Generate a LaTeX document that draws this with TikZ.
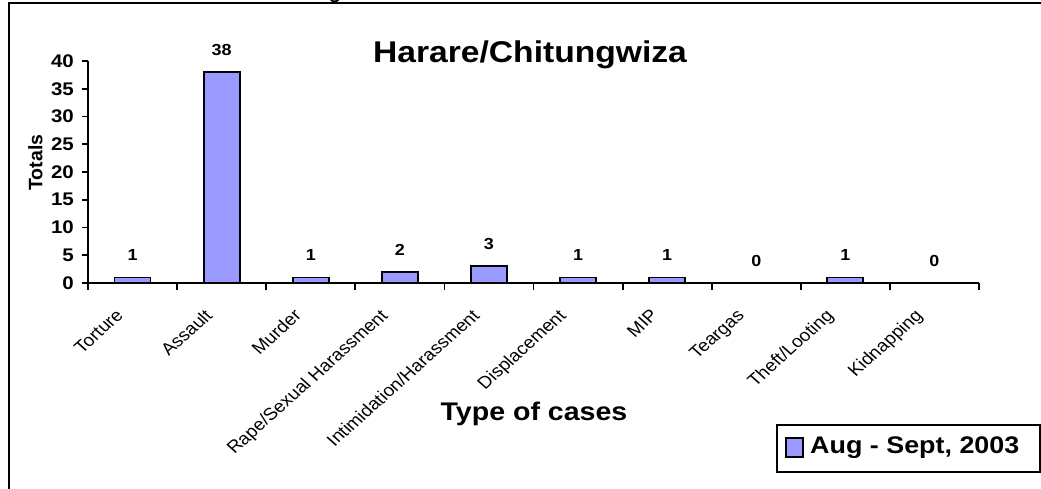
\documentclass[tikz,border=0pt]{standalone}
\usepackage{graphicx}
\usepackage{fontspec}
\setmainfont{Liberation Sans}
\newfontfamily\wide[FakeStretch=1.12]{Liberation Sans}
\definecolor{barfill}{HTML}{9999FF}
\newcommand{\catbox}[1]{\scalebox{1.12}[1]{\rotatebox{45}{#1}}}
\begin{document}
\begin{tikzpicture}[x=1pt,y=-1pt,
  frameline/.style={line width=2.4pt},
  axisline/.style={line width=1.8pt},
  barbox/.style={draw=black, line width=1.8pt, fill=barfill},
  ticklab/.style={font=\wide\bfseries\fontsize{18.3}{20}\selectfont, anchor=east, inner sep=0pt},
  vallab/.style={font=\wide\bfseries\fontsize{16}{18}\selectfont, inner sep=0pt},
  catlab/.style={font=\fontsize{17.1}{19}\selectfont, anchor=north east, inner sep=0pt},
  titlelab/.style={font=\wide\bfseries\fontsize{30}{34}\selectfont, inner sep=0pt},
  axtitle/.style={font=\wide\bfseries\fontsize{25.5}{28}\selectfont, inner sep=0pt, anchor=base},
  legbox/.style={draw=black, line width=2pt, fill=white}]
\useasboundingbox (0,0) rectangle (1041,489);
% outer frame (partly outside the page)
\draw[frameline] (8.7,489) -- (8.7,3.2) -- (1041,3.2);
% clipped fragment of text above
\node[font=\bfseries\fontsize{20}{22}\selectfont, anchor=base, inner sep=0pt] (frag) at (335,-1.5) {g};
% axes
\coordinate (O) at (88,283);
\coordinate (Ytop) at (88,61);
\coordinate (Xend) at (979,283);
\draw[axisline] (Ytop) -- (O) -- (Xend);
\foreach \t in {0,5,...,40}{
  \draw[axisline] (82,283-5.55*\t) -- (88,283-5.55*\t);
  \node[ticklab] (yt\t) at (74,283-5.55*\t) {\t};
}
\foreach \k in {0,...,10}{
  \draw[axisline] (88+89.1*\k,283) -- (88+89.1*\k,290);
}
% bars and value labels
\foreach \v [count=\k from 0] in {1,38,1,2,3,1,1,0,1,0}{
  \pgfmathsetmacro\cx{88+89.1*(\k+0.5)}
  \pgfmathsetmacro\ty{283-5.55*\v}
  \ifnum\v>0
    \draw[barbox] (\cx-18,283) rectangle (\cx+18,\ty);
  \fi
  \node[vallab] (val\k) at (\cx,\ty-22) {\v};
}
% category labels
\foreach \name [count=\k from 0] in {Torture,Assault,Murder,Rape/Sexual Harassment,Intimidation/Harassment,Displacement,MIP,Teargas,Theft/Looting,Kidnapping}{
  \pgfmathsetmacro\cx{88+89.1*(\k+0.5)}
  \node[catlab] (cat\k) at (\cx-8,308) {\catbox{\name}};
}
% titles
\node[titlelab] (title) at (530,55) {Harare/Chitungwiza};
\node[font=\bfseries\fontsize{19.5}{21}\selectfont, rotate=90, inner sep=0pt] (ytitle) at (35.5,162.5) {Totals};
\node[axtitle] (xtitle) at (534,420) {Type of cases};
% legend
\draw[legbox] (777,425) rectangle (1040,472);
\draw[draw=black, line width=1.5pt, fill=barfill] (786,438) rectangle (803,457);
\node[font=\wide\bfseries\fontsize{24}{26}\selectfont, anchor=west, inner sep=0pt] (legtext) at (810,448) {Aug - Sept, 2003};
\end{tikzpicture}
\end{document}
